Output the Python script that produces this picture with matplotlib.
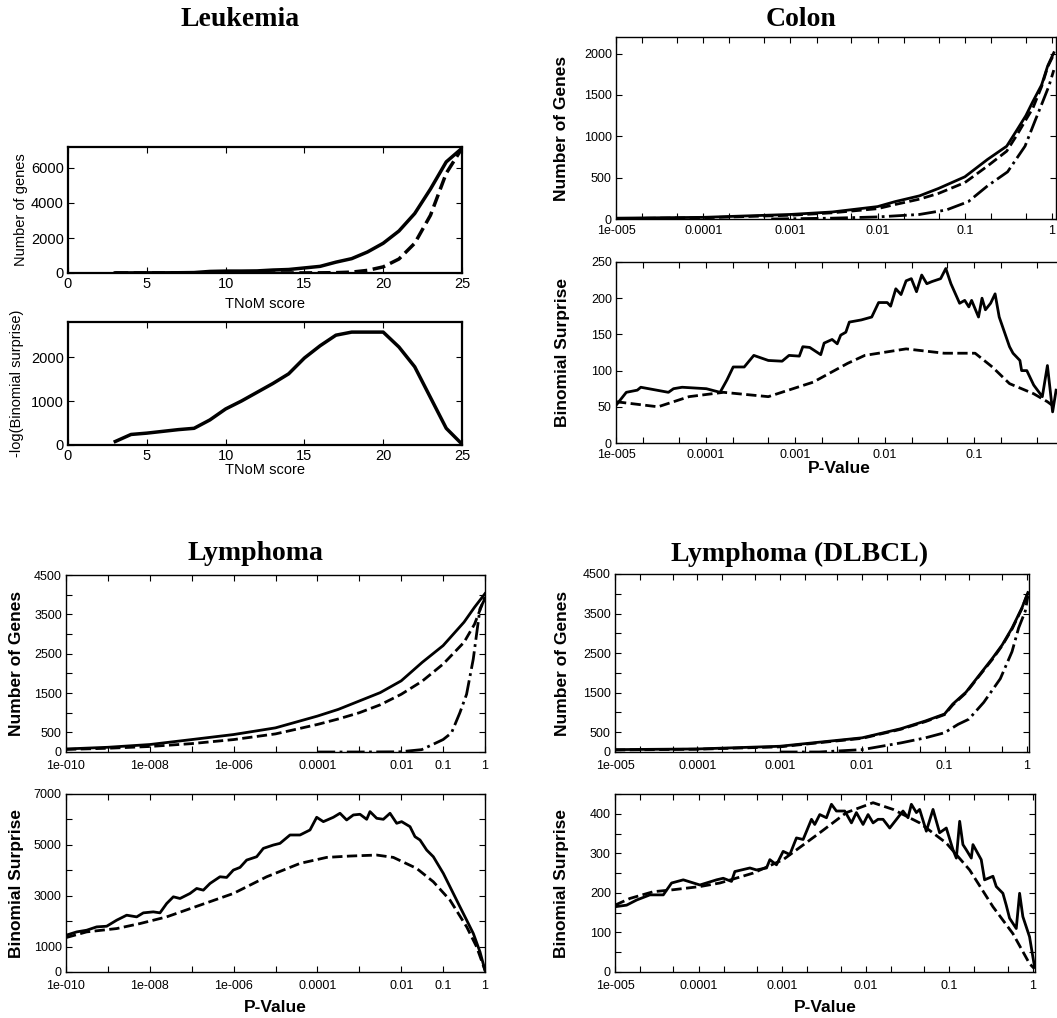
import matplotlib
matplotlib.use("Agg")
import matplotlib.pyplot as plt
from matplotlib.ticker import FixedLocator, NullFormatter

plt.rcParams['font.family'] = ['Liberation Sans', 'DejaVu Sans']

# ---------------- data ----------------
# Leukemia (TNoM score)
leuk_score = [3, 4, 5, 6, 7, 8, 9, 10, 11, 12, 13, 14, 15, 16, 17, 18, 19, 20, 21, 22, 23, 24, 25]
leuk_genes_solid = [5, 5, 8, 10, 15, 25, 90, 110, 110, 120, 170, 200, 290, 380, 620, 820,
                    1200, 1700, 2400, 3400, 4800, 6350, 7129]
leuk_genes_dashed = [0, 0, 0, 0, 0, 0, 0, 0, 0, 0, 0, 5, 5, 10, 20, 50,
                     150, 350, 800, 1700, 3300, 5700, 7129]
leuk_surprise = [80, 240, 270, 310, 350, 380, 570, 820, 1000, 1200, 1400, 1620, 1980, 2260,
                 2500, 2570, 2570, 2570, 2230, 1780, 1080, 380, 20]

# Colon, number of genes (x = log10 p-value)
colon_top_logp = [-5, -4, -3, -2.52, -2, -1.8, -1.52, -1.3, -1, -0.74, -0.52, -0.4, -0.3, -0.22, -0.12, -0.05, 0.02]
colon_top_solid = [10, 20, 55, 85, 150, 210, 280, 370, 510, 720, 880, 1080, 1250, 1420, 1620, 1850, 2010]
colon_top_dashed = [5, 15, 45, 75, 125, 175, 240, 310, 440, 640, 820, 1020, 1200, 1340, 1600, 1840, 1990]
colon_top_dd_logp = [-3.22, -3, -2.52, -2, -1.52, -1.21, -0.96, -0.74, -0.51, -0.31, -0.19, -0.11, -0.035, 0.02]
colon_top_dd = [0, 3, 10, 25, 55, 110, 210, 400, 570, 880, 1200, 1410, 1610, 1800]

# Colon, binomial surprise
colon_bot_solid_logp = [-5.0, -4.885, -4.762, -4.723, -4.415, -4.358, -4.262, -3.992, -3.838, -3.762,
                        -3.692, -3.569, -3.462, -3.3, -3.146, -3.069, -2.954, -2.915, -2.838, -2.715,
                        -2.677, -2.588, -2.531, -2.492, -2.435, -2.396, -2.262, -2.146, -2.069, -1.973,
                        -1.935, -1.877, -1.819, -1.762, -1.704, -1.646, -1.588, -1.531, -1.473, -1.377,
                        -1.319, -1.262, -1.165, -1.108, -1.062, -1.031, -0.954, -0.915, -0.877, -0.819,
                        -0.769, -0.723, -0.608, -0.569, -0.492, -0.473, -0.415, -0.338, -0.242, -0.185,
                        -0.127, -0.088]
colon_bot_solid = [52, 70, 73, 77, 70, 75, 77, 75, 70, 87,
                   105, 105, 121, 114, 113, 121, 120, 133, 132, 122,
                   138, 143, 137, 149, 153, 167, 170, 174, 194, 194,
                   189, 213, 205, 224, 227, 209, 232, 220, 223, 227,
                   241, 220, 193, 197, 188, 197, 174, 200, 184, 193,
                   206, 174, 133, 124, 114, 100, 100, 80, 64, 107,
                   43, 73]
colon_bot_dashed_logp = [-5.0, -4.531, -4.185, -3.8, -3.3, -2.8, -2.415, -2.223, -1.762, -1.338,
                         -0.992, -0.8, -0.608, -0.338, -0.185, -0.108]
colon_bot_dashed = [57, 50, 64, 70, 64, 84, 110, 121, 130, 124,
                    124, 105, 82, 68, 57, 50]

# Lymphoma, number of genes
lym_top_logp = [-10, -9, -8, -7, -6, -5, -4, -3.5, -3, -2.5, -2, -1.5, -1, -0.5, -0.25, 0]
lym_top_solid = [77, 120, 190, 316, 444, 614, 913, 1084, 1297, 1510, 1809, 2278, 2705, 3302, 3680, 4027]
lym_top_dashed = [65, 95, 140, 213, 316, 460, 700, 840, 998, 1200, 1467, 1800, 2235, 2790, 3250, 3940]
lym_top_dd_logp = [-4, -3, -2.03, -1.51, -1.0, -0.8, -0.6, -0.44, -0.28, -0.12, 0]
lym_top_dd = [0, 0, 5, 60, 316, 486, 998, 1467, 2363, 3643, 3900]

# Lymphoma, binomial surprise
lym_bot_solid_logp = [-10.0, -9.745, -9.507, -9.268, -9.029, -8.791, -8.552, -8.313, -8.154, -7.916,
                      -7.757, -7.597, -7.438, -7.279, -7.041, -6.881, -6.722, -6.563, -6.325, -6.166,
                      -6.006, -5.847, -5.688, -5.449, -5.29, -5.052, -4.893, -4.654, -4.415, -4.177,
                      -4.017, -3.858, -3.62, -3.461, -3.302, -3.142, -2.983, -2.824, -2.745, -2.585,
                      -2.426, -2.267, -2.108, -1.989, -1.79, -1.671, -1.551, -1.392, -1.233, -0.994,
                      -0.756, -0.597, -0.437, -0.278, -0.119, 0.0]
lym_bot_solid = [1445, 1577, 1643, 1774, 1800, 2037, 2234, 2168, 2326, 2365,
                 2326, 2694, 2957, 2891, 3088, 3285, 3219, 3482, 3745, 3719,
                 4008, 4113, 4402, 4533, 4862, 4993, 5059, 5388, 5388, 5585,
                 6084, 5913, 6084, 6242, 5979, 6176, 6202, 6005, 6307, 6045,
                 6005, 6242, 5848, 5913, 5716, 5322, 5191, 4796, 4533, 3876,
                 3088, 2562, 2037, 1511, 788, 66]
lym_bot_dashed_logp = [-10.0, -9.507, -8.791, -8.234, -7.597, -6.802, -6.006, -5.211, -4.415, -3.779,
                       -3.222, -2.585, -2.188, -1.631, -1.233, -0.835, -0.437, -0.199, 0.0]
lym_bot_dashed = [1353, 1577, 1708, 1905, 2168, 2628, 3088, 3745, 4271, 4507,
                  4560, 4599, 4507, 4074, 3548, 2825, 1774, 986, 66]

# Lymphoma (DLBCL), number of genes
dlbcl_top_logp = [-5, -4, -3, -2.52, -2, -1.53, -1.23, -1.0, -0.9, -0.74, -0.58, -0.42, -0.3, -0.18, -0.06, 0.012]
dlbcl_top_solid = [60, 77, 145, 248, 359, 589, 786, 960, 1212, 1511, 1938, 2365, 2707, 3134, 3646, 4031]
dlbcl_top_dashed = [50, 70, 130, 235, 345, 575, 770, 945, 1190, 1495, 1920, 2340, 2690, 3110, 3630, 4020]
dlbcl_top_dd_logp = [-3.0, -2.52, -2.0, -1.53, -1.23, -1.0, -0.835, -0.706, -0.524, -0.323, -0.181, -0.101, -0.02, 0.012]
dlbcl_top_dd = [0, 0, 60, 230, 359, 487, 700, 828, 1255, 1853, 2536, 3134, 3561, 3945]

# Lymphoma (DLBCL), binomial surprise
dlbcl_bot_solid_logp = [-5.0, -4.861, -4.741, -4.582, -4.422, -4.323, -4.183, -3.984, -3.785, -3.705,
                        -3.606, -3.566, -3.386, -3.307, -3.187, -3.147, -3.068, -2.988, -2.908, -2.829,
                        -2.749, -2.649, -2.61, -2.55, -2.47, -2.41, -2.351, -2.251, -2.171, -2.112,
                        -2.032, -1.972, -1.912, -1.853, -1.793, -1.713, -1.554, -1.494, -1.454, -1.394,
                        -1.355, -1.275, -1.195, -1.116, -1.036, -0.956, -0.916, -0.876, -0.837, -0.797,
                        -0.737, -0.717, -0.618, -0.578, -0.478, -0.438, -0.359, -0.319, -0.279, -0.199,
                        -0.159, -0.12, -0.04, 0.0, 0.02]
dlbcl_bot_solid = [165, 169, 182, 195, 195, 225, 233, 220, 233, 237,
                   229, 254, 263, 258, 263, 284, 271, 305, 297, 339,
                   335, 386, 373, 398, 390, 424, 407, 407, 377, 403,
                   373, 398, 377, 386, 386, 364, 407, 390, 424, 403,
                   411, 356, 411, 352, 364, 309, 288, 381, 322, 309,
                   288, 322, 284, 233, 242, 216, 199, 169, 136, 110,
                   199, 140, 89, 38, 13]
dlbcl_bot_dashed_logp = [-5.0, -4.821, -4.542, -4.303, -3.984, -3.745, -3.347, -2.988, -2.55, -2.231,
                         -1.912, -1.673, -1.355, -1.036, -0.757, -0.478, -0.239, -0.04, 0.02]
dlbcl_bot_dashed = [169, 186, 203, 208, 216, 225, 250, 284, 352, 403,
                    428, 411, 377, 326, 258, 165, 97, 21, 8]

# ---------------- figure ----------------
W, H = 1057, 1018
fig = plt.figure(figsize=(W / 100, H / 100), dpi=100)


def px_axes(left, top, right, bottom):
    return fig.add_axes([left / W, 1 - bottom / H, (right - left) / W, (bottom - top) / H])


def style(ax, labelsize=9, spine=1.0, xpad=3, right=True):
    ax.tick_params(which='both', direction='in', top=True, right=right,
                   length=4, width=0.8, labelsize=labelsize, pad=3)
    ax.tick_params(axis='x', which='both', pad=xpad)
    for s in ax.spines.values():
        s.set_linewidth(spine)


def log_axis(ax, lo_exp, hi, label_exps, labels, minor):
    ax.set_xscale('log')
    ax.set_xlim(10.0 ** lo_exp, hi)
    ax.xaxis.set_major_locator(FixedLocator([10.0 ** e for e in label_exps]))
    ax.set_xticklabels(labels)
    ax.xaxis.set_minor_locator(FixedLocator(minor))
    ax.xaxis.set_minor_formatter(NullFormatter())


def p(logs):
    return [10.0 ** v for v in logs]


def ylab(ax, text, x, bold=True, size=12.5):
    ax.set_ylabel(text, fontsize=size, fontweight='bold' if bold else 'normal')
    ax.yaxis.label.set_verticalalignment('center')
    ax.yaxis.set_label_coords(x, 0.5)


def xlab(ax, text, y, bold=True, size=12.5):
    ax.set_xlabel(text, fontsize=size, fontweight='bold' if bold else 'normal')
    ax.xaxis.label.set_verticalalignment('center')
    ax.xaxis.set_label_coords(0.5, y)


LW = 2.0
title_kw = dict(family='Liberation Serif', fontweight='bold', fontsize=20, ha='center', va='center')

# titles
fig.text(240 / W, 1 - 19 / H, 'Leukemia', **title_kw)
fig.text(801 / W, 1 - 19 / H, 'Colon', **title_kw)
fig.text(255 / W, 1 - 553 / H, 'Lymphoma', **title_kw)
fig.text(800 / W, 1 - 554 / H, 'Lymphoma (DLBCL)', **title_kw)

# Leukemia top
ax = px_axes(68, 147, 462, 273)
ax.plot(leuk_score, leuk_genes_solid, 'k-', lw=2.5)
ax.plot(leuk_score, leuk_genes_dashed, 'k--', lw=2.5)
ax.set_xlim(0, 25)
ax.set_ylim(0, 7200)
ax.set_xticks([0, 5, 10, 15, 20, 25])
ax.set_yticks([0, 2000, 4000, 6000])
style(ax, labelsize=10.5, spine=1.6)
ylab(ax, 'Number of genes', -0.119, bold=False, size=10.5)
xlab(ax, 'TNoM score', -0.25, bold=False, size=10.5)

# Leukemia bottom
ax = px_axes(68, 322, 462, 445)
ax.plot(leuk_score, leuk_surprise, 'k-', lw=2.5)
ax.set_xlim(0, 25)
ax.set_ylim(0, 2800)
ax.set_xticks([0, 5, 10, 15, 20, 25])
ax.set_yticks([0, 1000, 2000])
style(ax, labelsize=10.5, spine=1.6)
ylab(ax, '-log(Binomial surprise)', -0.13, bold=False, size=10.5)
xlab(ax, 'TNoM score', -0.2, bold=False, size=10.5)

five_labels = ['1e-005', '0.0001', '0.001', '0.01', '0.1', '1']
five_minor = [m * 10.0 ** e for e in range(-5, 1) for m in (2, 5)]

# Colon top
ax = px_axes(616, 37, 1056, 219)
ax.plot(p(colon_top_logp), colon_top_solid, 'k-', lw=LW)
ax.plot(p(colon_top_logp), colon_top_dashed, 'k--', lw=LW)
ax.plot(p(colon_top_dd_logp), colon_top_dd, 'k-.', lw=LW)
log_axis(ax, -5, 1.11, range(-5, 1), five_labels, five_minor)
ax.set_ylim(0, 2200)
ax.set_yticks([0, 500, 1000, 1500, 2000])
style(ax, xpad=4)
ylab(ax, 'Number of Genes', -0.123)

# Colon bottom (right edge runs off the page, last label not shown)
ax = px_axes(616, 262, 1062, 443)
ax.plot(p(colon_bot_solid_logp), colon_bot_solid, 'k-', lw=LW)
ax.plot(p(colon_bot_dashed_logp), colon_bot_dashed, 'k--', lw=LW)
log_axis(ax, -5, 0.95, range(-5, 1), five_labels, five_minor)
ax.set_ylim(0, 250)
ax.set_yticks([0, 50, 100, 150, 200, 250])
style(ax, xpad=4, right=False)
ylab(ax, 'Binomial Surprise', -0.121)
xlab(ax, 'P-Value', -0.14)

# Lymphoma top
lym_labels = ['1e-010', '1e-008', '1e-006', '0.0001', '0.01', '0.1', '1']
lym_exps = [-10, -8, -6, -4, -2, -1, 0]
lym_minor = [1e-9, 1e-7, 1e-5, 1e-3]
ax = px_axes(66, 575, 485, 752)
ax.plot(p(lym_top_logp), lym_top_solid, 'k-', lw=LW)
ax.plot(p(lym_top_logp), lym_top_dashed, 'k--', lw=LW)
ax.plot(p(lym_top_dd_logp), lym_top_dd, 'k-.', lw=LW)
log_axis(ax, -10, 1.0, lym_exps, lym_labels, lym_minor)
ax.set_ylim(0, 4500)
ax.set_yticks([0, 500, 1500, 2500, 3500, 4500])
ax.yaxis.set_minor_locator(FixedLocator([1000, 2000, 3000, 4000]))
style(ax, xpad=6)
ylab(ax, 'Number of Genes', -0.117)

# Lymphoma bottom
ax = px_axes(66, 794, 485, 972)
ax.plot(p(lym_bot_solid_logp), lym_bot_solid, 'k-', lw=LW)
ax.plot(p(lym_bot_dashed_logp), lym_bot_dashed, 'k--', lw=LW)
log_axis(ax, -10, 1.0, lym_exps, lym_labels, lym_minor)
ax.set_ylim(0, 7000)
ax.set_yticks([0, 1000, 3000, 5000, 7000])
ax.yaxis.set_minor_locator(FixedLocator([2000, 4000, 6000]))
style(ax, xpad=6)
ylab(ax, 'Binomial Surprise', -0.117)
xlab(ax, 'P-Value', -0.2)

# DLBCL top
ax = px_axes(615, 574, 1029, 752)
ax.plot(p(dlbcl_top_logp), dlbcl_top_solid, 'k-', lw=LW)
ax.plot(p(dlbcl_top_logp), dlbcl_top_dashed, 'k--', lw=LW)
ax.plot(p(dlbcl_top_dd_logp), dlbcl_top_dd, 'k-.', lw=LW)
log_axis(ax, -5, 1.06, range(-5, 1), five_labels, five_minor)
ax.set_ylim(0, 4500)
ax.set_yticks([0, 500, 1500, 2500, 3500, 4500])
ax.yaxis.set_minor_locator(FixedLocator([1000, 2000, 3000, 4000]))
style(ax, xpad=6)
ylab(ax, 'Number of Genes', -0.128)

# DLBCL bottom
ax = px_axes(615, 794, 1035, 972)
ax.plot(p(dlbcl_bot_solid_logp), dlbcl_bot_solid, 'k-', lw=LW)
ax.plot(p(dlbcl_bot_dashed_logp), dlbcl_bot_dashed, 'k--', lw=LW)
log_axis(ax, -5, 1.06, range(-5, 1), five_labels, five_minor)
ax.set_ylim(0, 450)
ax.set_yticks([0, 100, 200, 300, 400])
ax.yaxis.set_minor_locator(FixedLocator([50, 150, 250, 350, 450]))
style(ax, xpad=6)
ylab(ax, 'Binomial Surprise', -0.128)
xlab(ax, 'P-Value', -0.2)

fig.savefig('out.png', dpi=100)
